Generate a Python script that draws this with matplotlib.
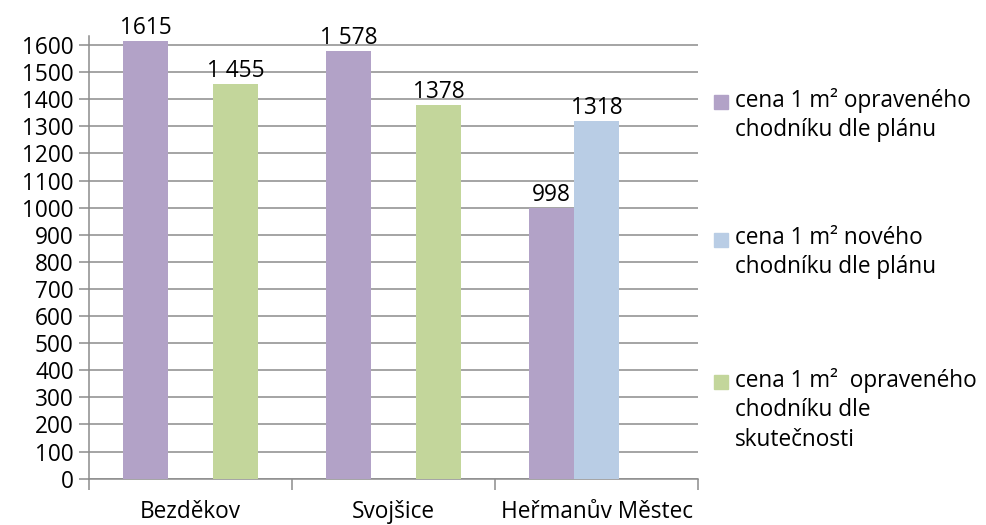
import numpy as np
import matplotlib
matplotlib.use('Agg')
import matplotlib.pyplot as plt
from matplotlib.patches import Rectangle

# data
mista = ['Bezděkov', 'Svojšice', 'Heřmanův Městec']
serie = ['cena 1 m² opraveného\nchodníku dle plánu',
         'cena 1 m² nového\nchodníku dle plánu',
         'cena 1 m²  opraveného\nchodníku dle\nskutečnosti']
oprava_plan = [1615, 1578, 998]
novy_plan = [np.nan, np.nan, 1318]
oprava_skut = [1455, 1378, np.nan]
popisky = [['1615', '1 578', '998'],
           ['', '', '1318'],
           ['1 455', '1378', '']]
barvy = ['#B2A2C7', '#B9CDE5', '#C3D69B']

plt.rcParams['font.family'] = ['Open Sans', 'DejaVu Sans']
fs = 16.3

fig = plt.figure(figsize=(9.87, 5.25), dpi=100)
ax = fig.add_axes([0.0902, 0.0882, 0.617, 0.8432])

x = np.arange(len(mista))
w = 0.222
hodnoty = [oprava_plan, novy_plan, oprava_skut]
for i, (h, b) in enumerate(zip(hodnoty, barvy)):
    pos = x + (i - 1) * w
    ax.bar(pos, h, width=w, color=b, zorder=3)
    for p, v, t in zip(pos, h, popisky[i]):
        if t != '':
            ax.text(p, v + 4, t, ha='center', va='bottom', fontsize=fs)

ax.set_xlim(-0.5, 2.5)
ax.set_ylim(0, 1633)
ax.set_yticks(np.arange(0, 1601, 100))
ax.yaxis.grid(True, color='#8c8c8c', lw=1.1, zorder=0)
ax.set_xticks(x)
ax.set_xticklabels(mista, fontsize=fs)
ax.set_xticks([-0.5, 0.5, 1.5, 2.5], minor=True)
ax.tick_params(axis='x', which='major', length=0, pad=15)
ax.tick_params(axis='x', which='minor', length=8, color='#8c8c8c', width=1.1)
ax.tick_params(axis='y', length=7, color='#8c8c8c', width=1.1, labelsize=fs, pad=4)
for s in ['top', 'right']:
    ax.spines[s].set_visible(False)
for s in ['left', 'bottom']:
    ax.spines[s].set_color('#8c8c8c')
    ax.spines[s].set_linewidth(1.1)

# legenda
ypos = [102, 240, 382]
for b, t, yy in zip(barvy, serie, ypos):
    fig.patches.append(Rectangle((714 / 987, 1 - (yy + 7) / 525), 14 / 987, 14 / 525,
                                 transform=fig.transFigure, color=b))
    fig.text(735 / 987, 1 - (yy - 14) / 525, t, ha='left', va='top',
             fontsize=fs, linespacing=1.3)

fig.savefig('out.png', dpi=100)
